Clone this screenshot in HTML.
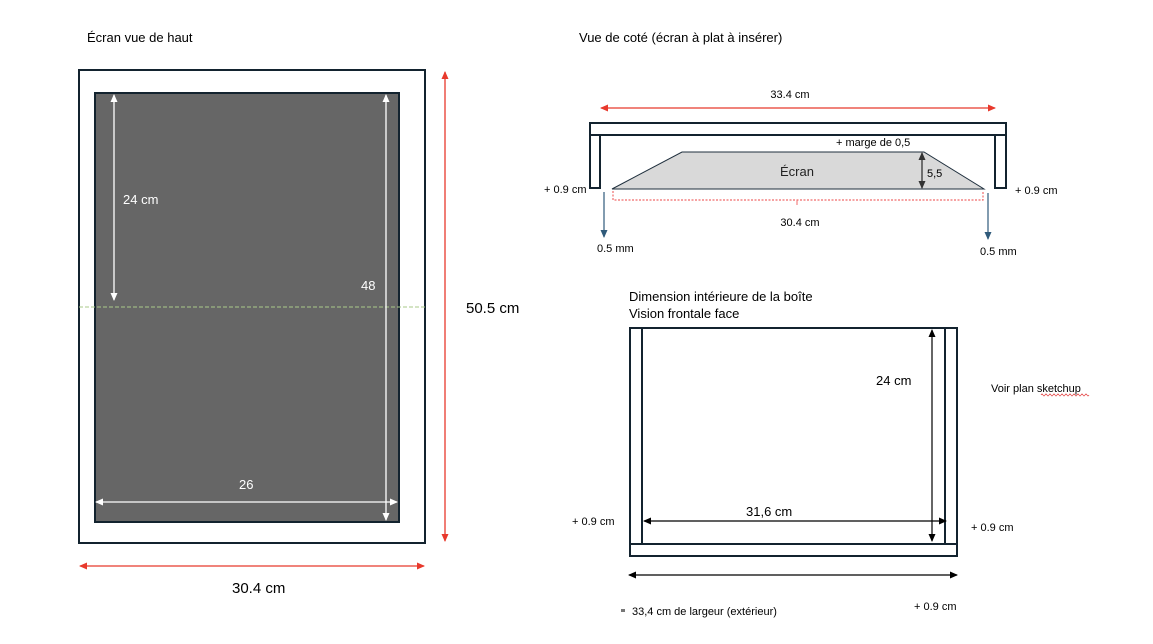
<!DOCTYPE html>
<html><head><meta charset="utf-8"><style>
html,body{margin:0;padding:0;background:#fff;}
svg{display:block;font-family:"Liberation Sans",sans-serif;}
</style></head><body>
<svg width="1153" height="644" viewBox="0 0 1153 644" xmlns="http://www.w3.org/2000/svg">
<defs>
<marker id="aw" markerWidth="8" markerHeight="8" refX="7" refY="4" orient="auto-start-reverse" markerUnits="userSpaceOnUse"><path d="M0,0.5 L8,4 L0,7.5z" fill="#fff"/></marker>
<marker id="ar" markerWidth="8" markerHeight="8" refX="7" refY="4" orient="auto-start-reverse" markerUnits="userSpaceOnUse"><path d="M0,0.5 L8,4 L0,7.5z" fill="#e8392c"/></marker>
<marker id="ab" markerWidth="8" markerHeight="8" refX="7" refY="4" orient="auto-start-reverse" markerUnits="userSpaceOnUse"><path d="M0,0.5 L8,4 L0,7.5z" fill="#000"/></marker>
<marker id="abl" markerWidth="8" markerHeight="8" refX="7" refY="4" orient="auto-start-reverse" markerUnits="userSpaceOnUse"><path d="M0,0.5 L8,4 L0,7.5z" fill="#2f5a7a"/></marker>
<marker id="ad" markerWidth="8" markerHeight="8" refX="7" refY="4" orient="auto-start-reverse" markerUnits="userSpaceOnUse"><path d="M0,0.5 L8,4 L0,7.5z" fill="#333"/></marker>
</defs>

<!-- Left: top view -->
<text x="87" y="42" font-size="13" fill="#000">Écran vue de haut</text>
<rect x="79" y="70" width="346" height="473" fill="#fff" stroke="#13232f" stroke-width="2"/>
<rect x="95" y="93" width="304" height="429" fill="#666" stroke="#13232f" stroke-width="2"/>
<line x1="79" y1="307" x2="425" y2="307" stroke="#a9c98a" stroke-width="1" stroke-dasharray="4,2"/>
<line x1="114" y1="95" x2="114" y2="300" stroke="#fff" stroke-width="1.3" marker-start="url(#aw)" marker-end="url(#aw)"/>
<line x1="386" y1="95" x2="386" y2="520" stroke="#fff" stroke-width="1.3" marker-start="url(#aw)" marker-end="url(#aw)"/>
<line x1="96" y1="502" x2="397" y2="502" stroke="#fff" stroke-width="1.3" marker-start="url(#aw)" marker-end="url(#aw)"/>
<text x="123" y="204" font-size="13" fill="#fff">24 cm</text>
<text x="361" y="290" font-size="13" fill="#fff">48</text>
<text x="239" y="489" font-size="13" fill="#fff">26</text>
<line x1="445" y1="72" x2="445" y2="541" stroke="#e8392c" stroke-width="1.3" marker-start="url(#ar)" marker-end="url(#ar)"/>
<line x1="80" y1="566" x2="424" y2="566" stroke="#e8392c" stroke-width="1.3" marker-start="url(#ar)" marker-end="url(#ar)"/>
<text x="466" y="313" font-size="15" fill="#000">50.5 cm</text>
<text x="232" y="593" font-size="15" fill="#000">30.4 cm</text>

<!-- Side view -->
<text x="579" y="42" font-size="13" fill="#000">Vue de coté (écran à plat à insérer)</text>
<text x="790" y="98" font-size="11" fill="#000" text-anchor="middle">33.4 cm</text>
<line x1="601" y1="108" x2="995" y2="108" stroke="#e8392c" stroke-width="1.3" marker-start="url(#ar)" marker-end="url(#ar)"/>
<rect x="590" y="123" width="416" height="12" fill="#fff" stroke="#13232f" stroke-width="2"/>
<rect x="590" y="135" width="10" height="53" fill="#fff" stroke="#13232f" stroke-width="2"/>
<rect x="995" y="135" width="11" height="53" fill="#fff" stroke="#13232f" stroke-width="2"/>
<polygon points="612,189 682,152 924,152 984,189" fill="#d9d9d9" stroke="#1f2f3d" stroke-width="1"/>
<text x="836" y="146" font-size="11" fill="#000">+ marge de 0,5</text>
<text x="797" y="176" font-size="13" fill="#222" text-anchor="middle">Écran</text>
<line x1="922" y1="153" x2="922" y2="188" stroke="#333" stroke-width="1.3" marker-start="url(#ad)" marker-end="url(#ad)"/>
<text x="927" y="177" font-size="11" fill="#000">5,5</text>
<path d="M613,191 L613,200 L983,200 L983,191" fill="none" stroke="#f06a6a" stroke-width="1.2" stroke-dasharray="2,1.5"/>
<line x1="797" y1="200" x2="797" y2="205" stroke="#f06a6a" stroke-width="1"/>
<text x="800" y="226" font-size="11" fill="#000" text-anchor="middle">30.4 cm</text>
<text x="544" y="193" font-size="11" fill="#000">+ 0.9 cm</text>
<text x="1015" y="194" font-size="11" fill="#000">+ 0.9 cm</text>
<line x1="604" y1="192" x2="604" y2="237" stroke="#2f5a7a" stroke-width="1.2" marker-end="url(#abl)"/>
<line x1="988" y1="193" x2="988" y2="239" stroke="#2f5a7a" stroke-width="1.2" marker-end="url(#abl)"/>
<text x="597" y="252" font-size="11" fill="#000">0.5 mm</text>
<text x="980" y="255" font-size="11" fill="#000">0.5 mm</text>

<!-- Front view -->
<text x="629" y="301" font-size="13" fill="#000">Dimension intérieure de la boîte</text>
<text x="629" y="318" font-size="13" fill="#000">Vision frontale face</text>
<rect x="630" y="328" width="327" height="228" fill="#fff" stroke="#13232f" stroke-width="2"/>
<line x1="642" y1="328" x2="642" y2="544" stroke="#13232f" stroke-width="2"/>
<line x1="945" y1="328" x2="945" y2="544" stroke="#13232f" stroke-width="2"/>
<line x1="630" y1="544" x2="957" y2="544" stroke="#13232f" stroke-width="2"/>
<line x1="932" y1="330" x2="932" y2="541" stroke="#000" stroke-width="1.2" marker-start="url(#ab)" marker-end="url(#ab)"/>
<line x1="644" y1="521" x2="946" y2="521" stroke="#000" stroke-width="1.2" marker-start="url(#ab)" marker-end="url(#ab)"/>
<text x="876" y="385" font-size="13" fill="#000">24 cm</text>
<text x="746" y="516" font-size="13" fill="#000">31,6 cm</text>
<line x1="629" y1="575" x2="957" y2="575" stroke="#000" stroke-width="1.2" marker-start="url(#ab)" marker-end="url(#ab)"/>
<text x="572" y="525" font-size="11" fill="#000">+ 0.9 cm</text>
<text x="971" y="531" font-size="11" fill="#000">+ 0.9 cm</text>
<text x="914" y="610" font-size="11" fill="#000">+ 0.9 cm</text>
<rect x="621" y="609" width="4" height="3" fill="#777"/>
<text x="632" y="615" font-size="11" fill="#000">33,4 cm de largeur (extérieur)</text>
<text x="991" y="392" font-size="11" fill="#000">Voir plan sketchup</text>
<path d="M1041,395 q1,-2 2,0 t2,0 t2,0 t2,0 t2,0 t2,0 t2,0 t2,0 t2,0 t2,0 t2,0 t2,0 t2,0 t2,0 t2,0 t2,0 t2,0 t2,0 t2,0 t2,0 t2,0 t2,0 t2,0 t2,0" fill="none" stroke="#e03030" stroke-width="0.7"/>
</svg>
</body></html>
